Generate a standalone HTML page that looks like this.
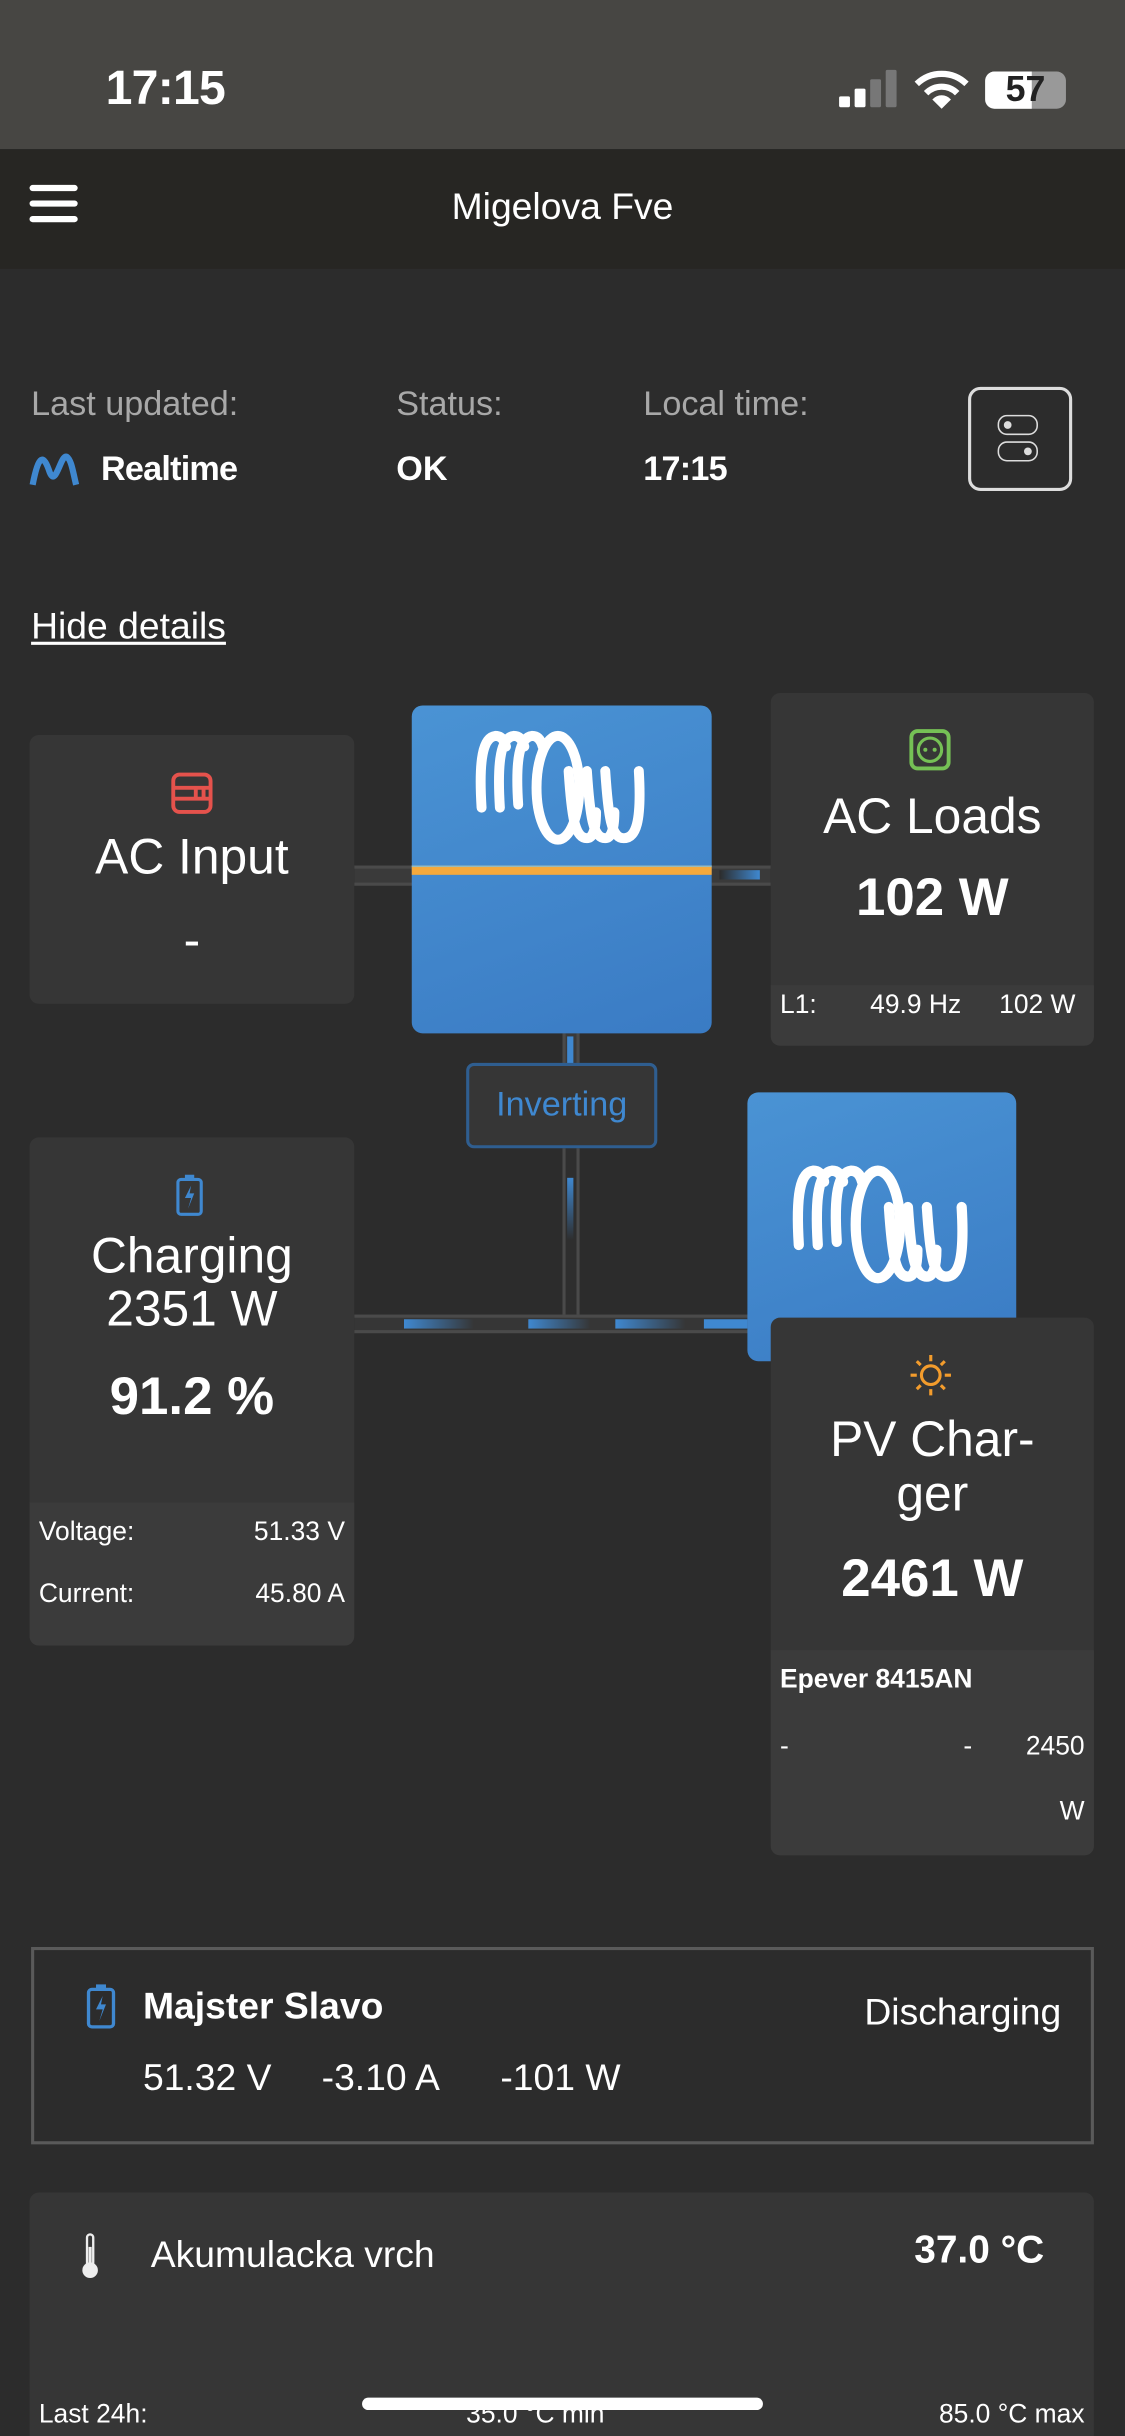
<!DOCTYPE html>
<html><head><meta charset="utf-8">
<style>
html,body{margin:0;padding:0;background:#2c2c2c;width:1125px;height:2436px;overflow:hidden}
#w{position:absolute;left:0;top:0;width:724px;height:1568px;transform:scale(1.55387);transform-origin:0 0;background:#2c2c2c;font-family:"Liberation Sans",sans-serif;color:#fff;overflow:hidden}
.a{position:absolute;white-space:nowrap}
.card{position:absolute;background:#363636;border-radius:6px;overflow:hidden}
.sub{position:absolute;left:0;right:0;bottom:0;background:#3b3b3b}
.c{text-align:center;left:0;right:0}
.blue{position:absolute;border-radius:7px;background:linear-gradient(160deg,#4a93d4,#3a7bc4)}
.t{letter-spacing:-0.5px}
</style></head><body><div id="w">
<svg width="0" height="0" style="position:absolute"><defs><g id="logo" stroke="#fff" stroke-width="6.5" fill="none" stroke-linecap="round">
<path d="M5 52 C3 20,6 6,14 5 C18 5,20 8,21 12"/>
<path d="M17 52 C15 20,18 6,26 5 C30 5,32 8,33 12"/>
<path d="M29 50 C27 20,30 6,38 5 C42 5,44 8,45 12"/>
<ellipse cx="55" cy="39" rx="14" ry="34"/>
<path d="M62 28 C64 58,66 72,74 72 C79 72,80 62,80 55"/>
<path d="M74 28 C76 58,78 72,86 72 C91 72,92 62,92 55"/>
<path d="M86 28 C88 58,90 72,98 72 C106 72,110 62,108 28"/>
</g></defs></svg>
<!-- status bar -->
<div class="a" style="left:0;top:0;width:724px;height:96px;background:#474643"></div>
<div class="a t" style="left:68px;top:39px;font-size:31px;font-weight:bold">17:15</div>
<div class="a" style="left:540px;top:62px;width:7px;height:7px;background:#fff;border-radius:1px"></div>
<div class="a" style="left:550px;top:57px;width:7px;height:12px;background:#fff;border-radius:1px"></div>
<div class="a" style="left:560px;top:51px;width:7px;height:18px;background:#777;border-radius:1px"></div>
<div class="a" style="left:570px;top:45px;width:7px;height:24px;background:#777;border-radius:1px"></div>
<svg class="a" style="left:588px;top:45px" width="36" height="26" viewBox="0 0 36 26"><path d="M2 9 A23 23 0 0 1 34 9" stroke="#fff" stroke-width="4" fill="none"/><path d="M8 15 A14 14 0 0 1 28 15" stroke="#fff" stroke-width="4" fill="none"/><path d="M12 19 L18 25 L24 19 A8 8 0 0 0 12 19Z" fill="#fff"/></svg>
<div class="a" style="left:634px;top:46px;width:52px;height:24px;border-radius:6px;background:#999"></div>
<div class="a" style="left:634px;top:46px;width:30px;height:24px;border-radius:6px 0 0 6px;background:#fff"></div>
<div class="a" style="left:637px;top:44px;font-size:23px;font-weight:bold;color:#222;width:46px;text-align:center">57</div>
<!-- header -->
<div class="a" style="left:0;top:96px;width:724px;height:77px;background:#272623"></div>
<div class="a" style="left:19px;top:119px;width:31px;height:4px;background:#fff;border-radius:2px"></div>
<div class="a" style="left:19px;top:129px;width:31px;height:4px;background:#fff;border-radius:2px"></div>
<div class="a" style="left:19px;top:139px;width:31px;height:4px;background:#fff;border-radius:2px"></div>
<div class="a c" style="top:120px;font-size:24px">Migelova Fve</div>
<!-- info -->
<div class="a" style="left:20px;top:247px;font-size:22px;color:#a8a8a8">Last updated:</div>
<div class="a" style="left:255px;top:247px;font-size:22px;color:#a8a8a8">Status:</div>
<div class="a" style="left:414px;top:247px;font-size:22px;color:#a8a8a8">Local time:</div>
<svg class="a" style="left:19px;top:290px" width="32" height="24" viewBox="0 0 32 24"><path d="M2 22 C6 2,9 2,13 14 C17 24,20 2,24 4 C27 6,28 14,30 22" stroke="#3f88d0" stroke-width="4" fill="none"/></svg>
<div class="a t" style="left:65px;top:289px;font-size:22px;font-weight:bold">Realtime</div>
<div class="a" style="left:255px;top:289px;font-size:22px;font-weight:bold">OK</div>
<div class="a t" style="left:414px;top:289px;font-size:22px;font-weight:bold">17:15</div>
<div class="a" style="left:623px;top:249px;width:63px;height:63px;border:2px solid #ddd;border-radius:8px"></div>
<div class="a" style="left:642px;top:267px;width:24px;height:11px;border:1.5px solid #ddd;border-radius:6px"></div>
<div class="a" style="left:646px;top:271px;width:5px;height:5px;background:#ddd;border-radius:3px"></div>
<div class="a" style="left:642px;top:284px;width:24px;height:11px;border:1.5px solid #ddd;border-radius:6px"></div>
<div class="a" style="left:659px;top:288px;width:5px;height:5px;background:#ddd;border-radius:3px"></div>
<div class="a" style="left:20px;top:390px;font-size:24px;text-decoration:underline">Hide details</div>
<!-- connectors -->
<div class="a" style="left:228px;top:557px;width:38px;height:9px;background:#3a3a3a;border-top:2px solid #4a4a4a;border-bottom:2px solid #4a4a4a"></div>
<div class="a" style="left:458px;top:557px;width:38px;height:9px;background:#3a3a3a;border-top:2px solid #4a4a4a;border-bottom:2px solid #4a4a4a"></div>
<div class="a" style="left:463px;top:560px;width:26px;height:6px;background:linear-gradient(90deg,#2c2c2c,#3f88d0)"></div>
<div class="a" style="left:362px;top:665px;width:7px;height:20px;background:#3a3a3a;border-left:2px solid #4a4a4a;border-right:2px solid #4a4a4a"></div>
<div class="a" style="left:365px;top:667px;width:4px;height:18px;background:#3f88d0"></div>
<div class="a" style="left:362px;top:739px;width:7px;height:113px;background:#2e2e2e;border-left:2px solid #4a4a4a;border-right:2px solid #4a4a4a"></div>
<div class="a" style="left:365px;top:758px;width:4px;height:40px;background:linear-gradient(#3f88d0,#2e2e2e)"></div>
<div class="a" style="left:228px;top:846px;width:254px;height:8px;background:#363636;border-top:2px solid #4a4a4a;border-bottom:2px solid #4a4a4a"></div>
<div class="a" style="left:260px;top:849px;width:45px;height:6px;background:linear-gradient(90deg,#3f88d0,#363636)"></div>
<div class="a" style="left:340px;top:849px;width:40px;height:6px;background:linear-gradient(90deg,#3f88d0,#363636)"></div>
<div class="a" style="left:396px;top:849px;width:45px;height:6px;background:linear-gradient(90deg,#3f88d0,#363636)"></div>
<div class="a" style="left:453px;top:849px;width:28px;height:6px;background:#3f88d0"></div>
<!-- AC input -->
<div class="card" style="left:19px;top:473px;width:209px;height:173px">
<svg class="a" style="left:91px;top:24px" width="27" height="27" viewBox="0 0 27 27"><rect x="1.5" y="1.5" width="24" height="24" rx="4" stroke="#e5524c" stroke-width="2.5" fill="none"/><path d="M1.5 10H25.5M1.5 17H25.5M16 10V17M21 10V17" stroke="#e5524c" stroke-width="2.5"/></svg>
<div class="a c" style="top:60px;font-size:32px">AC Input</div>
<div class="a c" style="top:114px;font-size:32px">-</div>
</div>
<!-- inverter -->
<div class="blue" style="left:265px;top:454px;width:193px;height:211px"></div>
<div class="a" style="left:265px;top:557px;width:193px;height:5px;background:#f5a93c;border-top:1px solid #9bb"></div>
<svg class="a" style="left:305px;top:468px" width="113" height="78" viewBox="0 0 115 78"><use href="#logo"/></svg>
<!-- AC loads -->
<div class="card" style="left:496px;top:446px;width:208px;height:227px">
<svg class="a" style="left:89px;top:23px" width="27" height="27" viewBox="0 0 27 27"><rect x="1.5" y="1.5" width="24" height="24" rx="4" stroke="#75c055" stroke-width="2.5" fill="none"/><circle cx="13.5" cy="13.5" r="7.5" stroke="#75c055" stroke-width="2" fill="none"/><circle cx="10.5" cy="13.5" r="1.3" fill="#75c055"/><circle cx="16.5" cy="13.5" r="1.3" fill="#75c055"/></svg>
<div class="a c" style="top:61px;font-size:32px">AC Loads</div>
<div class="a c" style="top:113px;font-size:34px;font-weight:bold">102 W</div>
<div class="sub" style="height:39px;background:#3b3b3b">
<div class="a" style="left:6px;top:3px;font-size:17px">L1:</div>
<div class="a" style="left:64px;top:3px;font-size:17px">49.9 Hz</div>
<div class="a" style="left:147px;top:3px;font-size:17px">102 W</div>
</div></div>
<!-- inverting -->
<div class="a" style="left:300px;top:684px;width:119px;height:51px;border:2px solid #2f5e90;border-radius:5px;background:#363636"></div>
<div class="a" style="left:300px;top:698px;width:123px;text-align:center;font-size:22px;color:#3f88d0">Inverting</div>
<!-- PV blue -->
<div class="blue" style="left:481px;top:703px;width:173px;height:173px"></div>
<svg class="a" style="left:509px;top:748px" width="117" height="80" viewBox="0 0 115 78"><use href="#logo"/></svg>
<!-- battery card -->
<div class="card" style="left:19px;top:732px;width:209px;height:327px">
<svg class="a" style="left:94px;top:23px" width="18" height="28" viewBox="0 0 18 28"><rect x="1.5" y="4" width="15" height="22.5" rx="2" stroke="#3f88d0" stroke-width="2" fill="none"/><rect x="6" y="1" width="6" height="3" fill="#3f88d0"/><path d="M10 8 L6 16 H10 L8 23 L12 13 H9 Z" fill="#3f88d0"/></svg>
<div class="a c" style="top:59px;font-size:32px;line-height:34px">Charging<br>2351 W</div>
<div class="a c" style="top:148px;font-size:34px;font-weight:bold">91.2 %</div>
<div class="sub" style="height:92px">
<div class="a" style="left:6px;top:9px;font-size:17px">Voltage:</div>
<div class="a" style="right:6px;top:9px;font-size:17px">51.33 V</div>
<div class="a" style="left:6px;top:49px;font-size:17px">Current:</div>
<div class="a" style="right:6px;top:49px;font-size:17px">45.80 A</div>
</div></div>
<!-- PV card -->
<div class="card" style="left:496px;top:848px;width:208px;height:346px">
<svg class="a" style="left:89px;top:23px" width="28" height="28" viewBox="0 0 28 28"><circle cx="14" cy="14" r="6" stroke="#f39c2c" stroke-width="2" fill="none"/><g stroke="#f39c2c" stroke-width="2"><path d="M14 1v4M14 23v4M1 14h4M23 14h4M5 5l2.5 2.5M20.5 20.5L23 23M5 23l2.5-2.5M20.5 7.5L23 5"/></g></svg>
<div class="a c" style="top:61px;font-size:32px;line-height:35px">PV Char-<br>ger</div>
<div class="a c" style="top:149px;font-size:34px;font-weight:bold">2461 W</div>
<div class="sub" style="height:132px">
<div class="a" style="left:6px;top:9px;font-size:17px;font-weight:bold">Epever 8415AN</div>
<div class="a" style="left:6px;top:52px;font-size:17px">-</div>
<div class="a" style="left:124px;top:52px;font-size:17px">-</div>
<div class="a" style="right:6px;top:52px;font-size:17px">2450</div>
<div class="a" style="right:6px;top:94px;font-size:17px">W</div>
</div></div>
<!-- battery monitor -->
<div class="a" style="left:20px;top:1253px;width:680px;height:123px;border:2px solid #5a5a5a"></div>
<svg class="a" style="left:55px;top:1276px" width="20" height="30" viewBox="0 0 18 28"><rect x="1.5" y="4" width="15" height="22.5" rx="2" stroke="#3f88d0" stroke-width="2" fill="none"/><rect x="6" y="1" width="6" height="3" fill="#3f88d0"/><path d="M10 8 L6 16 H10 L8 23 L12 13 H9 Z" fill="#3f88d0"/></svg>
<div class="a" style="left:92px;top:1278px;font-size:24px;font-weight:bold">Majster Slavo</div>
<div class="a" style="right:41px;top:1282px;font-size:24px">Discharging</div>
<div class="a" style="left:92px;top:1324px;font-size:24px">51.32 V</div>
<div class="a" style="left:207px;top:1324px;font-size:24px">-3.10 A</div>
<div class="a" style="left:322px;top:1324px;font-size:24px">-101 W</div>
<!-- temperature -->
<div class="card" style="left:19px;top:1411px;width:685px;height:180px"></div>
<svg class="a" style="left:50px;top:1436px" width="16" height="32" viewBox="0 0 16 32"><rect x="6" y="2" width="4" height="20" rx="2" stroke="#eee" stroke-width="1.5" fill="none"/><circle cx="8" cy="25" r="5" fill="#eee"/><rect x="7" y="10" width="2" height="14" fill="#eee"/></svg>
<div class="a" style="left:97px;top:1438px;font-size:24px">Akumulacka vrch</div>
<div class="a" style="right:52px;top:1434px;font-size:25px;font-weight:bold">37.0 °C</div>
<div class="a" style="left:25px;top:1544px;font-size:17px">Last 24h:</div>
<div class="a" style="left:300px;top:1544px;font-size:17px">35.0 °C min</div>
<div class="a" style="right:26px;top:1544px;font-size:17px">85.0 °C max</div>
<div class="a" style="left:233px;top:1543px;width:258px;height:8px;background:#fff;border-radius:4px"></div>
</div></body></html>
